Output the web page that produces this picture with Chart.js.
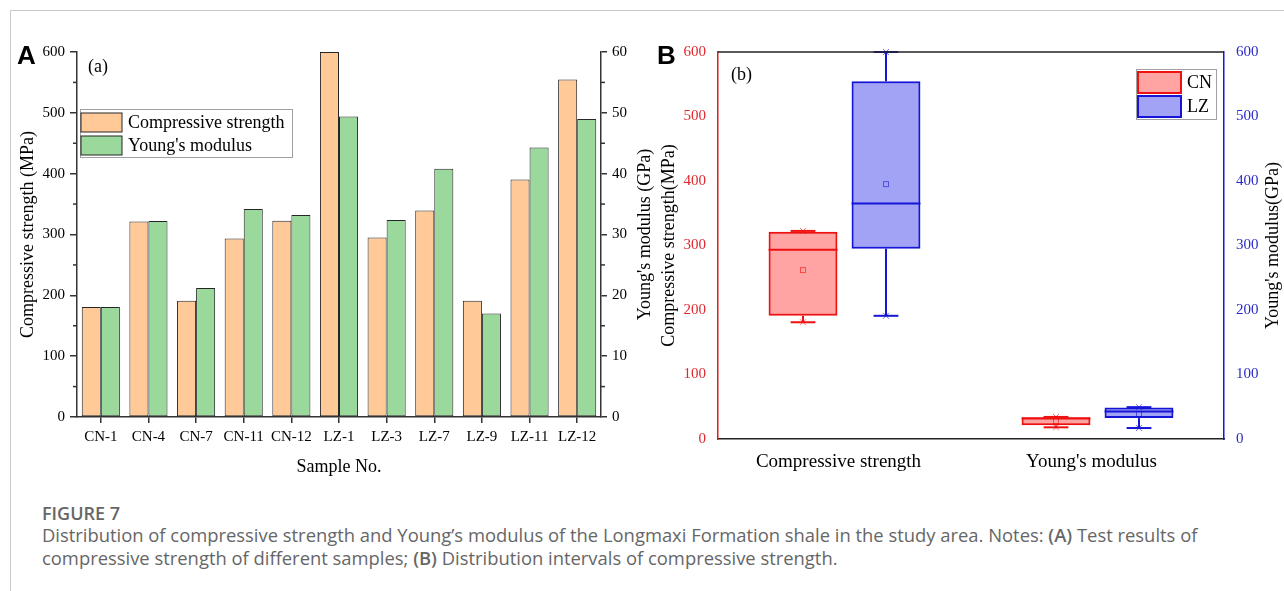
<!DOCTYPE html>
<html>
<head>
<meta charset="utf-8">
<title>Figure 7</title>
<script src="https://cdn.jsdelivr.net/npm/chart.js@4.4.1/dist/chart.umd.min.js"></script>
<style>
  body { margin: 0; background: #fff; width: 1284px; height: 591px; overflow: hidden; position: relative; }
  .frame { position: absolute; left: 10px; top: 10px; right: 0; bottom: 0; border-top: 1px solid #cacaca; border-left: 1px solid #cacaca; }
  canvas { position: absolute; }
  #chartA { left: 0; top: 40px; }
  #chartB { left: 650px; top: 40px; }
  .panel { position: absolute; font-family: 'Liberation Sans', Arial, sans-serif; font-weight: bold; font-size: 26px; line-height: 1; color: #000; }
  .sub { position: absolute; font-family: 'Liberation Serif', serif; font-size: 18px; line-height: 1; color: #000; }
  .fig { position: absolute; left: 42px; top: 502px; font-family: 'Open Sans', sans-serif; font-weight: 600; font-size: 18px; line-height: 23px; color: #666; }
  .caption { position: absolute; left: 42px; top: 523px; font-family: 'Open Sans', sans-serif; font-size: 18.4px; line-height: 23px; color: #666; white-space: nowrap; }
  .caption b { font-weight: 600; }
</style>
</head>
<body>
<div class="frame"></div>
<canvas id="chartA" width="660" height="440"></canvas>
<canvas id="chartB" width="634" height="440"></canvas>
<div class="panel" style="left:17px; top:42px;">A</div>
<div class="panel" style="left:657px; top:42px;">B</div>
<div class="sub" style="left:88px; top:57px;">(a)</div>
<div class="sub" style="left:731px; top:65px;">(b)</div>
<div class="fig">FIGURE 7</div>
<div class="caption">Distribution of compressive strength and Young’s modulus of the Longmaxi Formation shale in the study area. Notes: <b>(A)</b> Test results of<br>compressive strength of different samples; <b>(B)</b> Distribution intervals of compressive strength.</div>

<script>
// sample values (MPa / GPa)
const samples = ['CN-1', 'CN-4', 'CN-7', 'CN-11', 'CN-12', 'LZ-1', 'LZ-3', 'LZ-7', 'LZ-9', 'LZ-11', 'LZ-12']
const strength = [181, 321.5, 191, 293.5, 322.6, 600, 295, 339.6, 191, 390.6, 554.6]
const modulus = [18.1, 32.2, 21.2, 34.2, 33.2, 49.4, 32.4, 40.8, 17.0, 44.3, 49.0]

const properties = ['Compressive strength', "Young's modulus"]
const areas = ['CN', 'LZ']

const strengthRange = [0, 600, 100]
const modulusRange = [0, 60, 10]
const boxRange = [0, 600, 100]

const AXIS = '#333'
const SERIF = '"Liberation Serif", "Times New Roman", serif'

Chart.defaults.font.family = SERIF
Chart.defaults.color = '#000'

// --- box statistics (Tukey hinges, like Origin) ---
function median(v) {
  const n = v.length
  const m = Math.floor(n / 2)
  return n % 2 ? v[m] : (v[m - 1] + v[m]) / 2
}

function boxStats(values) {
  const v = values.slice().sort((a, b) => a - b)
  const n = v.length
  const h = Math.ceil(n / 2)
  return {
    min: v[0],
    max: v[n - 1],
    q1: median(v.slice(0, h)),
    q3: median(v.slice(n - h)),
    med: median(v),
    mean: v.reduce((a, b) => a + b, 0) / n,
  }
}

function byArea(values, area) {
  return values.filter((_, i) => samples[i].startsWith(area))
}

// --- plugins ---
function line(ctx, x1, y1, x2, y2) {
  ctx.beginPath()
  ctx.moveTo(x1, y1)
  ctx.lineTo(x2, y2)
  ctx.stroke()
}

// half-step ticks on both y axes
const minorTicks = {
  id: 'minorTicks',
  afterDraw(chart, args, opts) {
    if (!opts.axes) return
    const ctx = chart.ctx
    ctx.save()
    ctx.strokeStyle = AXIS
    ctx.lineWidth = 1.5
    opts.axes.forEach((id) => {
      const s = chart.scales[id]
      const step = s.options.ticks.stepSize
      const left = s.position === 'left'
      const x0 = left ? s.right : s.left
      for (let v = s.min + step / 2; v < s.max; v += step) {
        const py = s.getPixelForValue(v)
        line(ctx, x0, py, x0 + (left ? -opts.length : opts.length), py)
      }
    })
    ctx.restore()
  },
}

// right-hand axis title, reading bottom to top
const sideTitle = {
  id: 'sideTitle',
  afterDraw(chart, args, opts) {
    if (!opts.text) return
    const s = chart.scales[opts.axis]
    const ca = chart.chartArea
    const ctx = chart.ctx
    ctx.save()
    ctx.translate(s.right - opts.offset, (ca.top + ca.bottom) / 2)
    ctx.rotate(-Math.PI / 2)
    ctx.font = '18px ' + SERIF
    ctx.fillStyle = '#000'
    ctx.textAlign = 'center'
    ctx.textBaseline = 'middle'
    ctx.fillText(opts.text, 0, 0)
    ctx.restore()
  },
}

// framed legend inside the plot
const boxLegend = {
  id: 'boxLegend',
  afterDraw(chart, args, o) {
    if (!o.width) return
    const ctx = chart.ctx
    ctx.save()
    ctx.fillStyle = '#fff'
    ctx.fillRect(o.left, o.top, o.width, o.height)
    ctx.strokeStyle = '#a0a0a0'
    ctx.lineWidth = 1
    ctx.strokeRect(o.left + 0.5, o.top + 0.5, o.width, o.height)
    ctx.font = '18px ' + SERIF
    ctx.textBaseline = 'middle'
    chart.data.datasets.forEach((ds, i) => {
      const x = o.left + o.padLeft
      const y = o.top + o.padTop + i * (o.swatchH + o.rowGap)
      ctx.fillStyle = ds.backgroundColor
      ctx.fillRect(x, y, o.swatchW, o.swatchH)
      ctx.strokeStyle = ds.borderColor
      ctx.lineWidth = ds.borderWidth
      ctx.strokeRect(x, y, o.swatchW, o.swatchH)
      ctx.fillStyle = '#000'
      ctx.fillText(ds.label, x + o.swatchW + o.textGap, y + o.swatchH / 2 + 1)
    })
    ctx.restore()
  },
}

// whiskers, median, mean and the top frame line of the box plot
const whiskers = {
  id: 'whiskers',
  afterDatasetsDraw(chart, args, opts) {
    if (!opts.enabled) return
    const ctx = chart.ctx
    const y = chart.scales.y
    const ca = chart.chartArea
    ctx.save()
    chart.data.datasets.forEach((ds, i) => {
      chart.getDatasetMeta(i).data.forEach((bar, j) => {
        const s = ds.stats[j]
        const x = bar.x
        const half = bar.width / 2
        const cap = bar.width * 0.18
        ctx.strokeStyle = ds.borderColor
        ctx.lineWidth = 2
        line(ctx, x, y.getPixelForValue(s.q3), x, y.getPixelForValue(s.max))
        line(ctx, x, y.getPixelForValue(s.q1), x, y.getPixelForValue(s.min))
        line(ctx, x - cap, y.getPixelForValue(s.max), x + cap, y.getPixelForValue(s.max))
        line(ctx, x - cap, y.getPixelForValue(s.min), x + cap, y.getPixelForValue(s.min))
        line(ctx, x - half, y.getPixelForValue(s.med), x + half, y.getPixelForValue(s.med))
        // min / max crosses and mean square
        ctx.lineWidth = 1
        ctx.globalAlpha = 0.6
        ;[s.min, s.max].forEach((v) => {
          const py = y.getPixelForValue(v)
          line(ctx, x - 3, py - 3, x + 3, py + 3)
          line(ctx, x - 3, py + 3, x + 3, py - 3)
        })
        ctx.strokeRect(x - 2.5, y.getPixelForValue(s.mean) - 2.5, 5, 5)
        ctx.globalAlpha = 1
      })
    })
    ctx.strokeStyle = '#222'
    ctx.lineWidth = 1.5
    line(ctx, ca.left, ca.top, ca.right, ca.top)
    ctx.restore()
  },
}

Chart.register(minorTicks, sideTitle, boxLegend, whiskers)

// fixed axis sizes so both plots line up with the page
function fixWidth(w) {
  return (scale) => {
    scale.width = w
    scale.paddingTop = 0
    scale.paddingBottom = 0
  }
}
function fixHeight(h) {
  return (scale) => { scale.height = h }
}

// ---------- (a) bar chart per sample ----------
new Chart(document.getElementById('chartA'), {
  type: 'bar',
  data: {
    labels: samples,
    datasets: [
      {
        label: 'Compressive strength',
        data: strength,
        yAxisID: 'y',
        backgroundColor: '#ffca98',
        borderColor: '#262626',
        borderWidth: 1,
        borderSkipped: false,
      },
      {
        label: "Young's modulus",
        data: modulus,
        yAxisID: 'y1',
        backgroundColor: '#9ad89b',
        borderColor: '#262626',
        borderWidth: 1,
        borderSkipped: false,
      },
    ],
  },
  options: {
    responsive: false,
    animation: false,
    layout: { padding: { top: 12, left: 0, right: 0, bottom: 0 } },
    datasets: { bar: { categoryPercentage: 0.8, barPercentage: 1.0 } },
    plugins: {
      legend: { display: false },
      tooltip: { enabled: false },
      minorTicks: { axes: ['y', 'y1'], length: 4 },
      sideTitle: { axis: 'y1', text: "Young's modulus (GPa)", offset: 15 },
      boxLegend: {
        left: 80, top: 69, width: 212, height: 48,
        padLeft: 1, padTop: 4, swatchW: 41, swatchH: 19, rowGap: 4, textGap: 6,
      },
    },
    scales: {
      x: {
        afterFit: fixHeight(63),
        grid: { offset: false, drawOnChartArea: false, tickLength: 6, color: AXIS, lineWidth: 1.5 },
        border: { color: AXIS, width: 1.5 },
        ticks: { font: { size: 15 }, padding: 5, color: '#000' },
        title: { display: true, text: 'Sample No.', font: { size: 18 }, padding: { top: 0, bottom: 2 } },
      },
      y: {
        position: 'left',
        min: strengthRange[0], max: strengthRange[1],
        afterFit: fixWidth(77),
        grid: { drawOnChartArea: false, tickLength: 7, color: AXIS, lineWidth: 1.5 },
        border: { color: AXIS, width: 1.5 },
        ticks: { stepSize: strengthRange[2], font: { size: 15 }, padding: 5, color: '#000' },
        title: { display: true, text: 'Compressive strength (MPa)', font: { size: 18 }, padding: { top: 17, bottom: 0 } },
      },
      y1: {
        position: 'right',
        min: modulusRange[0], max: modulusRange[1],
        afterFit: fixWidth(59),
        grid: { drawOnChartArea: false, tickLength: 6, color: AXIS, lineWidth: 1.5 },
        border: { color: AXIS, width: 1.5 },
        ticks: { stepSize: modulusRange[2], font: { size: 15 }, padding: 5, color: '#000' },
      },
    },
  },
})

// ---------- (b) box plot by area ----------
const boxColors = {
  CN: { fill: 'rgba(255, 0, 0, 0.36)', line: '#ee1111' },
  LZ: { fill: 'rgba(0, 0, 230, 0.36)', line: '#1515d8' },
}

const boxSets = areas.map((area) => {
  const stats = [boxStats(byArea(strength, area)), boxStats(byArea(modulus, area))]
  return {
    label: area,
    data: stats.map((s) => [s.q1, s.q3]),
    stats: stats,
    backgroundColor: boxColors[area].fill,
    borderColor: boxColors[area].line,
    borderWidth: 2,
    borderSkipped: false,
  }
})

new Chart(document.getElementById('chartB'), {
  type: 'bar',
  data: { labels: properties, datasets: boxSets },
  options: {
    responsive: false,
    animation: false,
    layout: { padding: { top: 12, left: 0, right: 0, bottom: 0 } },
    datasets: { bar: { categoryPercentage: 0.656, barPercentage: 0.83 } },
    plugins: {
      legend: { display: false },
      tooltip: { enabled: false },
      whiskers: { enabled: true },
      sideTitle: { axis: 'y2', text: "Young's modulus(GPa)", offset: 11 },
      boxLegend: {
        left: 486, top: 29, width: 80, height: 50,
        padLeft: 2, padTop: 3, swatchW: 43, swatchH: 21, rowGap: 3, textGap: 6,
      },
    },
    scales: {
      x: {
        afterFit: fixHeight(41),
        grid: { display: false, drawTicks: false },
        border: { color: '#222', width: 1.5 },
        ticks: { font: { size: 19 }, padding: 12, labelOffset: -6, color: '#000' },
      },
      y: {
        position: 'left',
        min: boxRange[0], max: boxRange[1],
        afterFit: fixWidth(68),
        grid: { display: false, drawTicks: false },
        border: { color: '#e01b1b', width: 1.5 },
        ticks: { stepSize: boxRange[2], font: { size: 15 }, padding: 12, color: '#e0282e' },
        title: { display: true, text: 'Compressive strength(MPa)', font: { size: 18 }, padding: { top: 8, bottom: 0 } },
      },
      y2: {
        position: 'right',
        min: boxRange[0], max: boxRange[1],
        afterFit: fixWidth(60),
        grid: { display: false, drawTicks: false },
        border: { color: '#1818d0', width: 1.5 },
        ticks: { stepSize: boxRange[2], font: { size: 15 }, padding: 12, color: '#2a2ac8' },
      },
    },
  },
})
</script>
</body>
</html>
